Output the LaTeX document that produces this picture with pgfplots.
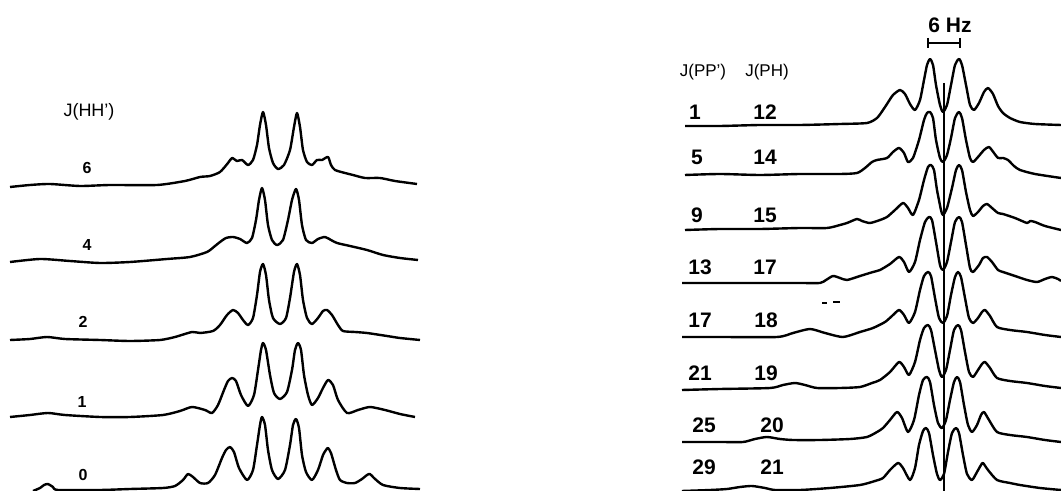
\documentclass[border=0pt]{standalone}
\usepackage{fontspec}
\setmainfont{Liberation Sans}
\usepackage{pgfplots}
\pgfplotsset{compat=1.18}
\begin{document}
\begin{tikzpicture}
\begin{axis}[
  scale only axis, width=530.5pt, height=245.5pt,
  xmin=0, xmax=1061, ymin=0, ymax=491, y dir=reverse,
  axis lines=none, clip=false,
  cycle list={{black,solid}},
  every axis plot post/.append style={black, solid, line width=1.2pt, smooth, tension=0.4, mark=none, line join=round},
]
% ---------- left panel: J(HH') ----------
\addplot coordinates {(10,187)(30,185)(50,184)(80,186)(110,185)(157,185)(185,181)(200,177)(210,176)(220,172)(228,163)(232,158)(237,161)(242,160)(248,165)(253,160)(257,145)(260,125)(263,112)(266,125)(269,148)(273,163)(278,169)(284,165)(290,150)(294,127)(297,113)(300,127)(303,150)(307,162)(312,165)(317,160)(322,160)(328,157)(331,165)(335,170)(345,173)(353,175)(365,178)(380,178)(395,181)(417,184)};
\addplot coordinates {(10,262)(40,259)(70,261)(100,263)(130,262)(167,259)(190,257)(207,252)(215,246)(220,242)(226,238)(233,237)(240,239)(247,243)(252,238)(256,220)(259,200)(262,188)(265,200)(268,225)(272,240)(277,245)(283,240)(288,220)(292,200)(296,189)(299,200)(302,225)(306,240)(312,243)(318,239)(325,237)(331,240)(337,243)(350,246)(367,250)(383,255)(400,258)(418,260)};
\addplot coordinates {(10,340)(30,339)(47,337)(65,339)(100,340)(130,341)(160,340)(175,337)(192,332)(200,333)(213,331)(220,325)(227,315)(233,310)(238,313)(243,320)(248,325)(253,318)(257,295)(260,272)(263,264)(266,275)(269,300)(273,318)(280,324)(286,318)(290,298)(294,272)(297,264)(300,275)(303,300)(307,318)(312,324)(318,318)(323,311)(327,310)(332,315)(338,325)(343,331)(355,332)(367,333)(387,336)(400,338)(420,340)};
\addplot coordinates {(10,417)(30,415)(48,413)(65,415)(100,417)(130,417)(163,415)(180,411)(192,407)(205,410)(212,413)(218,405)(224,390)(228,381)(232,378)(236,381)(241,395)(248,406)(254,395)(258,370)(261,350)(263,343)(266,350)(270,375)(274,393)(280,399)(287,392)(292,370)(295,350)(298,343)(301,350)(304,375)(308,395)(312,405)(318,398)(323,388)(328,380)(333,385)(338,400)(347,413)(358,410)(370,407)(385,410)(400,414)(415,417)};
\addplot coordinates {(33,491)(40,488)(44,485)(48,484)(53,487)(58,490)(100,490)(130,489)(163,488)(175,486)(183,480)(188,474)(193,477)(200,483)(208,483)(215,475)(222,458)(226,450)(230,447)(234,452)(239,468)(247,480)(253,470)(257,445)(260,425)(262,417)(265,425)(268,450)(272,470)(278,479)(285,470)(290,445)(293,425)(296,419)(299,428)(302,455)(306,472)(312,480)(318,470)(323,455)(326,450)(328,448)(331,453)(336,470)(340,480)(347,483)(355,483)(362,479)(367,475)(370,474)(374,478)(383,485)(400,488)(420,489)};
% ---------- right panel: J(PP'), J(PH) ----------
\addplot[line width=0.6pt, sharp plot] coordinates {(944,83)(944,491)};
\addplot coordinates {(685,126)(720,126)(760,125)(800,125)(840,124)(867,123)(877,118)(883,110)(887,104)(893,95)(900,90)(905,94)(910,104)(915,110)(920,100)(924,80)(927,65)(930,59)(933,65)(936,85)(940,105)(943,112)(947,105)(951,85)(955,65)(959,59)(962,65)(966,85)(970,105)(974,110)(979,103)(984,92)(988,88)(993,94)(998,106)(1003,113)(1010,118)(1020,122)(1035,124)(1061,125)};
\addplot coordinates {(685,175)(720,174)(760,175)(800,174)(840,174)(857,173)(865,168)(872,162)(877,160)(887,158)(893,152)(899,148)(904,153)(908,162)(913,158)(919,140)(924,120)(927,113)(930,112)(933,118)(936,140)(940,158)(943,162)(947,155)(951,138)(955,118)(959,112)(962,118)(966,140)(970,158)(973,162)(978,157)(984,150)(989,147)(994,153)(998,158)(1003,158)(1008,160)(1014,166)(1020,170)(1035,174)(1061,178)};
\addplot coordinates {(685,230)(720,229)(760,229)(800,228)(827,228)(840,225)(847,223)(857,219)(862,221)(870,223)(880,220)(887,217)(895,210)(903,203)(908,208)(913,215)(919,200)(924,180)(928,167)(931,165)(934,170)(937,190)(941,210)(943,215)(947,208)(952,188)(956,170)(959,165)(962,170)(966,192)(970,210)(973,216)(978,212)(983,206)(987,204)(992,208)(998,213)(1003,214)(1015,218)(1027,223)(1030,221)(1035,222)(1045,226)(1061,230)};
\addplot coordinates {(682,283)(720,283)(760,283)(800,283)(820,283)(826,280)(833,276)(840,278)(847,280)(860,276)(873,272)(880,270)(890,264)(899,257)(904,262)(909,272)(915,262)(920,240)(925,222)(929,217)(932,220)(936,242)(940,265)(943,270)(947,262)(951,242)(955,222)(959,217)(962,222)(966,245)(970,268)(973,272)(979,265)(983,258)(987,257)(992,262)(998,270)(1003,272)(1015,276)(1027,280)(1037,282)(1045,279)(1052,277)(1058,279)(1061,281)};
\addplot coordinates {(682,337)(720,337)(777,337)(793,333)(810,329)(825,333)(843,337)(860,332)(873,328)(885,322)(892,316)(899,310)(904,315)(909,323)(915,312)(920,290)(924,276)(928,272)(931,276)(935,298)(939,318)(943,323)(947,316)(951,295)(955,277)(958,272)(961,277)(965,298)(969,318)(973,323)(978,318)(982,312)(985,310)(990,316)(997,327)(1010,330)(1027,332)(1045,335)(1061,337)};
\addplot coordinates {(682,390)(720,389)(770,388)(783,385)(795,383)(805,385)(817,388)(840,388)(860,387)(872,383)(880,380)(890,372)(899,362)(904,367)(909,375)(915,362)(920,340)(924,328)(928,325)(931,330)(935,350)(939,370)(942,377)(946,370)(950,350)(954,330)(958,325)(961,330)(965,352)(969,372)(973,377)(978,370)(982,364)(985,362)(990,368)(997,378)(1010,381)(1027,383)(1045,386)(1061,388)};
\addplot coordinates {(682,442)(720,442)(743,442)(755,439)(767,437)(780,439)(793,440)(820,440)(850,439)(867,437)(877,432)(883,428)(890,420)(897,412)(902,418)(908,432)(914,420)(919,395)(923,380)(927,377)(930,382)(934,405)(938,423)(942,428)(946,420)(950,400)(954,382)(957,377)(960,382)(964,405)(968,425)(972,432)(977,425)(981,415)(984,412)(989,420)(997,432)(1010,435)(1027,437)(1045,440)(1061,442)};
\addplot coordinates {(682,491)(710,490)(727,489)(740,487)(752,486)(765,488)(775,490)(800,490)(830,488)(860,485)(875,481)(883,478)(890,470)(898,463)(903,468)(910,480)(915,468)(919,445)(923,431)(926,428)(929,433)(933,455)(937,474)(940,480)(944,474)(948,452)(952,433)(956,428)(959,433)(963,455)(967,474)(972,480)(977,472)(981,465)(983,463)(988,470)(997,480)(1010,483)(1020,485)(1040,488)(1061,490)};
% scale bar
\addplot[line width=1pt, sharp plot] coordinates {(928,43)(960,43)};
\addplot[line width=1pt, sharp plot] coordinates {(928,38)(928,48)};
\addplot[line width=1pt, sharp plot] coordinates {(960,38)(960,48)};
% small marks
\addplot[line width=0.8pt, sharp plot] coordinates {(822,303)(827,303)};
\addplot[line width=0.8pt, sharp plot] coordinates {(833,302)(840,302)};
% ---------- labels ----------
\node[font=\fontsize{9}{10}\selectfont] at (89,112) {J(HH')};
\begin{scope}[every node/.style={font=\bfseries\fontsize{8}{9}\selectfont}]
\node at (87,168) {6};
\node at (87,245) {4};
\node at (83,322) {2};
\node at (82,402) {1};
\node at (83,475) {0};
\end{scope}
\node[font=\bfseries\fontsize{10.5}{12}\selectfont] at (950,25) {6 Hz};
\node[font=\fontsize{8.5}{10}\selectfont] at (703,72) {J(PP')};
\node[font=\fontsize{8.5}{10}\selectfont] at (767,72) {J(PH)};
\begin{scope}[every node/.style={font=\bfseries\fontsize{10.5}{12}\selectfont}]
\node at (695,112) {1};  \node at (765,112) {12};
\node at (697,157) {5};  \node at (765,157) {14};
\node at (697,215) {9};  \node at (765,215) {15};
\node at (700,267) {13}; \node at (765,267) {17};
\node at (700,320) {17}; \node at (766,320) {18};
\node at (700,373) {21}; \node at (766,373) {19};
\node at (704,425) {25}; \node at (772,425) {20};
\node at (704,467) {29}; \node at (772,467) {21};
\end{scope}
\end{axis}
\pgfresetboundingbox
\path (0,0) rectangle (530.5pt,245.5pt);
\end{tikzpicture}
\end{document}
